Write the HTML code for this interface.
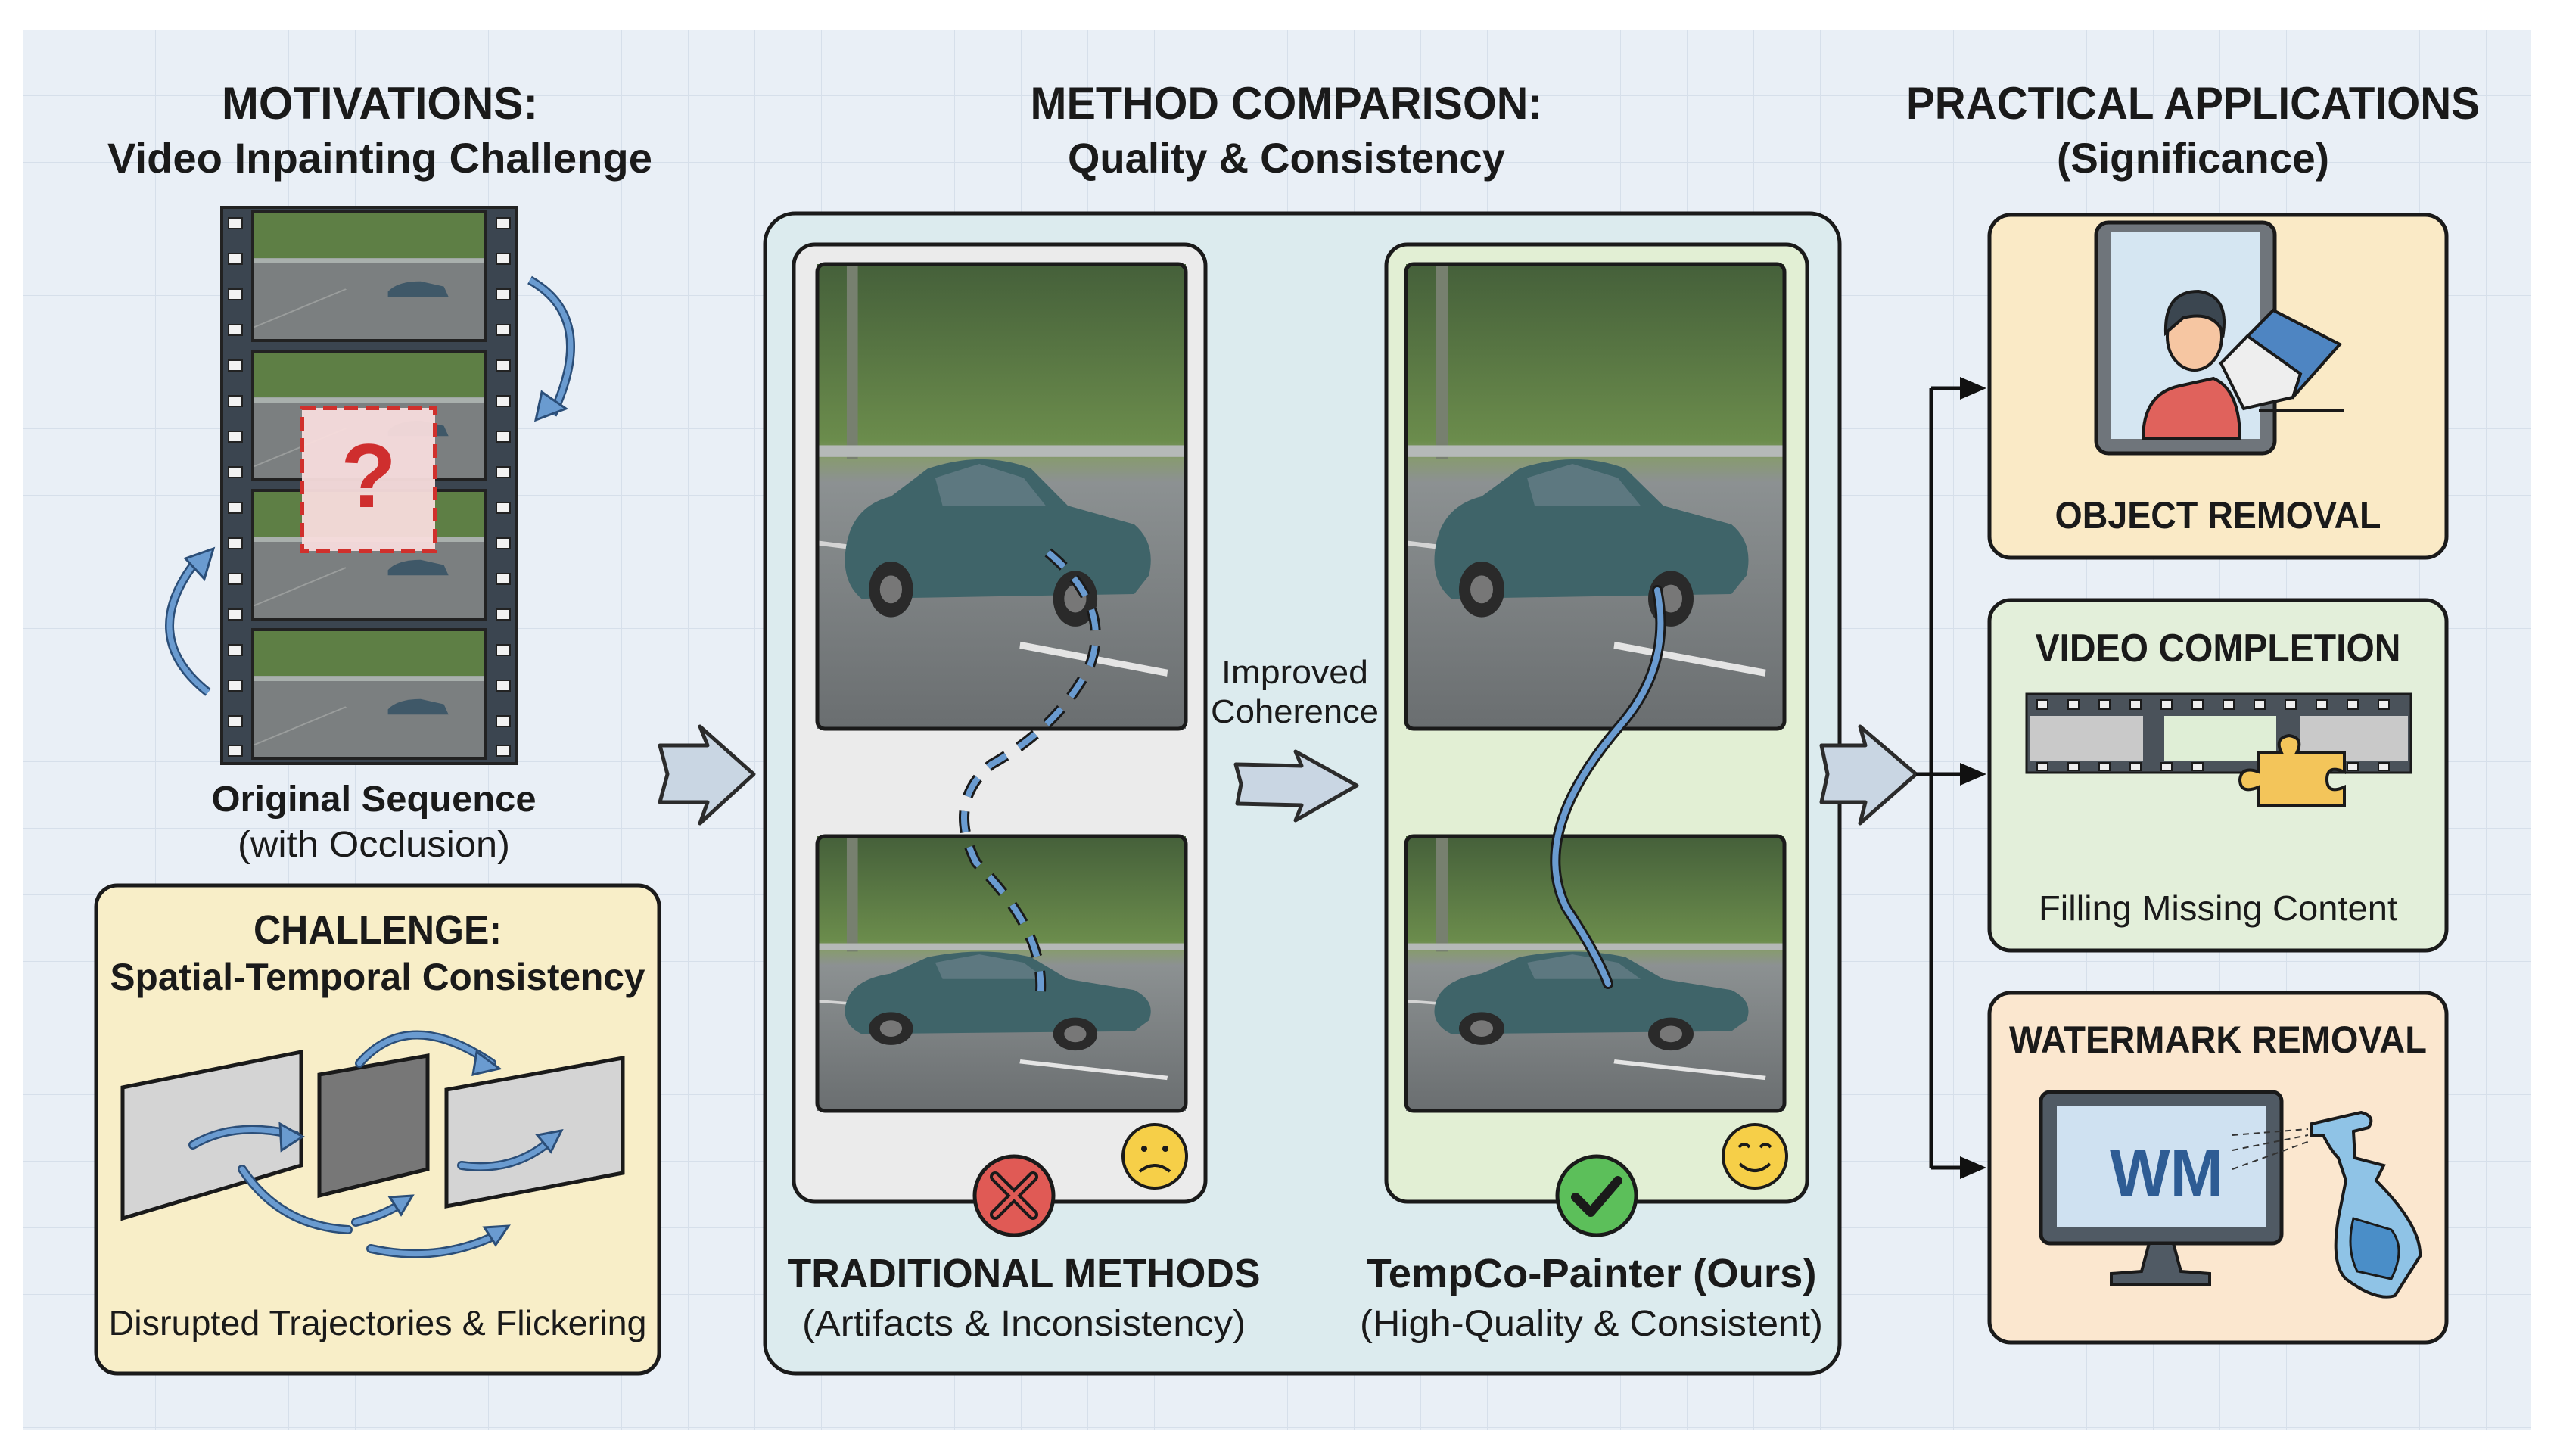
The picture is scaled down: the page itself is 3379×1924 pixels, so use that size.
<!DOCTYPE html>
<html><head><meta charset="utf-8"><style>
html,body{margin:0;padding:0;background:#fff;}
svg{display:block;}
text{font-family:"Liberation Sans",sans-serif;fill:#1a1a1a;}
</style></head><body>
<svg width="3379" height="1924" viewBox="0 0 3379 1924" xmlns="http://www.w3.org/2000/svg">
<defs>
<pattern id="grid" width="88" height="88" patternUnits="userSpaceOnUse" x="30" y="39">
<rect width="88" height="88" fill="#e9eff6"/>
<path d="M88 0V88M0 88H88" stroke="#d6dfea" stroke-width="2" fill="none"/>
</pattern>
<linearGradient id="sky" x1="0" y1="0" x2="0" y2="1">
<stop offset="0" stop-color="#45603a"/><stop offset="0.38" stop-color="#6b8c4c"/><stop offset="0.42" stop-color="#889a72"/><stop offset="0.47" stop-color="#8c9192"/><stop offset="1" stop-color="#6a6e70"/>
</linearGradient>
<symbol id="scene" viewBox="0 0 100 100" preserveAspectRatio="none">
<rect width="100" height="100" fill="url(#sky)"/>
<rect x="8" y="0" width="3" height="42" fill="#77806f"/>
<rect x="0" y="39" width="100" height="2.5" fill="#b5b9b8"/>
<path d="M55 82 L95 88" stroke="#e4e4e4" stroke-width="1.5"/>
<path d="M0 60 L40 64" stroke="#d4d4d4" stroke-width="1"/>
<path d="M8 60 Q10 52 20 50 L30 44 Q45 40 58 44 L68 52 L86 56 Q92 60 90 67 L86 71 L12 72 Q6 68 8 60Z" fill="#3f6469"/>
<path d="M32 46 L44 43 L56 46 L62 52 L34 52Z" fill="#5d7880"/>
<circle cx="20" cy="70" r="6" fill="#2a2a2a"/><circle cx="20" cy="70" r="3" fill="#777"/>
<circle cx="70" cy="72" r="6" fill="#2a2a2a"/><circle cx="70" cy="72" r="3" fill="#777"/>
</symbol>
<symbol id="frame" viewBox="0 0 100 100" preserveAspectRatio="none">
<rect width="100" height="100" fill="#7b7f80"/>
<rect width="100" height="36" fill="#5e7f45"/>
<rect y="36" width="100" height="4" fill="#a9b0ad"/>
<path d="M0 90 L40 60" stroke="#9a9d9c" stroke-width="1"/>
<path d="M58 62 Q62 54 72 54 L82 58 L84 66 L58 66Z" fill="#3f5868"/>
</symbol>
<marker id="ah" markerWidth="10" markerHeight="10" refX="8" refY="5" orient="auto" markerUnits="userSpaceOnUse" viewBox="0 0 10 10"><path d="M0 0L10 5L0 10Z" fill="#111"/></marker>
</defs>

<rect x="30" y="39" width="3315" height="1851" fill="url(#grid)"/>

<g font-weight="bold" text-anchor="middle">
<text x="502" y="157" font-size="60" textLength="418" lengthAdjust="spacingAndGlyphs">MOTIVATIONS:</text>
<text x="502" y="228" font-size="56" textLength="720" lengthAdjust="spacingAndGlyphs">Video Inpainting Challenge</text>
<text x="1700" y="157" font-size="60" textLength="677" lengthAdjust="spacingAndGlyphs">METHOD COMPARISON:</text>
<text x="1700" y="228" font-size="56" textLength="578" lengthAdjust="spacingAndGlyphs">Quality &amp; Consistency</text>
<text x="2898" y="157" font-size="60" textLength="758" lengthAdjust="spacingAndGlyphs">PRACTICAL APPLICATIONS</text>
<text x="2898" y="228" font-size="56" textLength="360" lengthAdjust="spacingAndGlyphs">(Significance)</text>
</g>

<!-- Film strip -->
<rect x="293" y="274" width="390" height="735" fill="#3b4550" stroke="#222" stroke-width="4"/>
<g fill="#f2f2f2" stroke="#222" stroke-width="2">
<rect x="302" y="288" width="18" height="14"/><rect x="302" y="335" width="18" height="14"/><rect x="302" y="382" width="18" height="14"/><rect x="302" y="429" width="18" height="14"/><rect x="302" y="476" width="18" height="14"/><rect x="302" y="523" width="18" height="14"/><rect x="302" y="570" width="18" height="14"/><rect x="302" y="617" width="18" height="14"/><rect x="302" y="664" width="18" height="14"/><rect x="302" y="711" width="18" height="14"/><rect x="302" y="758" width="18" height="14"/><rect x="302" y="805" width="18" height="14"/><rect x="302" y="852" width="18" height="14"/><rect x="302" y="899" width="18" height="14"/><rect x="302" y="946" width="18" height="14"/><rect x="302" y="985" width="18" height="14"/>
<rect x="656" y="288" width="18" height="14"/><rect x="656" y="335" width="18" height="14"/><rect x="656" y="382" width="18" height="14"/><rect x="656" y="429" width="18" height="14"/><rect x="656" y="476" width="18" height="14"/><rect x="656" y="523" width="18" height="14"/><rect x="656" y="570" width="18" height="14"/><rect x="656" y="617" width="18" height="14"/><rect x="656" y="664" width="18" height="14"/><rect x="656" y="711" width="18" height="14"/><rect x="656" y="758" width="18" height="14"/><rect x="656" y="805" width="18" height="14"/><rect x="656" y="852" width="18" height="14"/><rect x="656" y="899" width="18" height="14"/><rect x="656" y="946" width="18" height="14"/><rect x="656" y="985" width="18" height="14"/>
</g>
<use href="#frame" x="334" y="280" width="308" height="170"/>
<use href="#frame" x="334" y="464" width="308" height="170"/>
<use href="#frame" x="334" y="648" width="308" height="170"/>
<use href="#frame" x="334" y="832" width="308" height="170"/>
<g fill="none" stroke="#222" stroke-width="4">
<rect x="334" y="280" width="308" height="170"/><rect x="334" y="464" width="308" height="170"/><rect x="334" y="648" width="308" height="170"/><rect x="334" y="832" width="308" height="170"/>
</g>
<rect x="399" y="539" width="176" height="189" fill="#f7dcdc" fill-opacity="0.95" stroke="#d0302c" stroke-width="6" stroke-dasharray="18 10"/>
<text x="487" y="670" font-size="120" font-weight="bold" text-anchor="middle" style="fill:#cf2e2e">?</text>
<path d="M700 370 Q790 420 730 548" fill="none" stroke="#2b4e78" stroke-width="12"/>
<path d="M700 370 Q790 420 730 548" fill="none" stroke="#6a9bd0" stroke-width="7"/>
<path d="M708 555 L716 518 L748 540Z" fill="#6a9bd0" stroke="#2b4e78" stroke-width="3"/>
<path d="M275 915 Q180 840 262 738" fill="none" stroke="#2b4e78" stroke-width="12"/>
<path d="M275 915 Q180 840 262 738" fill="none" stroke="#6a9bd0" stroke-width="7"/>
<path d="M282 725 L245 738 L270 765Z" fill="#6a9bd0" stroke="#2b4e78" stroke-width="3"/>

<text x="494" y="1072" font-size="48" font-weight="bold" text-anchor="middle" textLength="429" lengthAdjust="spacingAndGlyphs">Original Sequence</text>
<text x="494" y="1132" font-size="48" text-anchor="middle" textLength="360" lengthAdjust="spacingAndGlyphs">(with Occlusion)</text>

<!-- Challenge box -->
<rect x="127" y="1170" width="744" height="645" rx="28" fill="#f8eec8" stroke="#1a1a1a" stroke-width="5"/>
<g font-weight="bold" text-anchor="middle">
<text x="499" y="1247" font-size="54" textLength="328" lengthAdjust="spacingAndGlyphs">CHALLENGE:</text>
<text x="499" y="1308" font-size="50" textLength="707" lengthAdjust="spacingAndGlyphs">Spatial-Temporal Consistency</text>
<text x="499" y="1764" font-size="46" textLength="711" lengthAdjust="spacingAndGlyphs" font-weight="normal">Disrupted Trajectories &amp; Flickering</text>
</g>
<path d="M162 1437 L398 1390 L398 1540 L162 1610Z" fill="#d4d4d4" stroke="#1a1a1a" stroke-width="5"/>
<path d="M422 1420 L565 1395 L565 1545 L422 1580Z" fill="#777" stroke="#1a1a1a" stroke-width="5"/>
<path d="M590 1440 L823 1398 L823 1550 L590 1594Z" fill="#d4d4d4" stroke="#1a1a1a" stroke-width="5"/>
<g fill="none" stroke-linecap="round">
<path d="M255 1513 Q310 1480 390 1500" stroke="#2b4e78" stroke-width="12"/><path d="M255 1513 Q310 1480 390 1500" stroke="#6a9bd0" stroke-width="7"/>
<path d="M475 1405 Q540 1330 650 1405" stroke="#2b4e78" stroke-width="12"/><path d="M475 1405 Q540 1330 650 1405" stroke="#6a9bd0" stroke-width="7"/>
<path d="M320 1545 Q370 1620 460 1625" stroke="#2b4e78" stroke-width="12"/><path d="M320 1545 Q370 1620 460 1625" stroke="#6a9bd0" stroke-width="7"/>
<path d="M470 1615 Q510 1605 530 1590" stroke="#2b4e78" stroke-width="12"/><path d="M470 1615 Q510 1605 530 1590" stroke="#6a9bd0" stroke-width="7"/>
<path d="M490 1650 Q580 1670 660 1630" stroke="#2b4e78" stroke-width="12"/><path d="M490 1650 Q580 1670 660 1630" stroke="#6a9bd0" stroke-width="7"/>
<path d="M610 1540 Q680 1550 730 1505" stroke="#2b4e78" stroke-width="12"/><path d="M610 1540 Q680 1550 730 1505" stroke="#6a9bd0" stroke-width="7"/>
</g>
<g fill="#6a9bd0" stroke="#2b4e78" stroke-width="3">
<path d="M400 1502 L370 1485 L372 1520Z"/><path d="M660 1412 L630 1390 L625 1420Z"/><path d="M545 1580 L515 1582 L530 1605Z"/><path d="M672 1620 L640 1622 L655 1645Z"/><path d="M742 1494 L710 1500 L728 1522Z"/>
</g>

<path d="M872 985 L935 985 L925 960 L996 1023 L925 1088 L935 1060 L872 1060 L882 1023Z" fill="#c9d6e3" stroke="#2b2b2b" stroke-width="5" stroke-linejoin="round"/>

<!-- Method panel -->
<rect x="1011" y="282" width="1420" height="1533" rx="40" fill="#dcebee" stroke="#1a1a1a" stroke-width="5"/>
<rect x="1049" y="323" width="544" height="1265" rx="28" fill="#ebebeb" stroke="#1a1a1a" stroke-width="5"/>
<rect x="1832" y="323" width="556" height="1265" rx="28" fill="#e2efd4" stroke="#1a1a1a" stroke-width="5"/>
<use href="#scene" x="1080" y="349" width="487" height="614"/>
<use href="#scene" x="1080" y="1105" width="487" height="363"/>
<use href="#scene" x="1858" y="349" width="500" height="614"/>
<use href="#scene" x="1858" y="1105" width="500" height="363"/>
<rect x="1080" y="349" width="487" height="614" rx="10" fill="none" stroke="#1a1a1a" stroke-width="5"/>
<rect x="1080" y="1105" width="487" height="363" rx="10" fill="none" stroke="#1a1a1a" stroke-width="5"/>
<rect x="1858" y="349" width="500" height="614" rx="10" fill="none" stroke="#1a1a1a" stroke-width="5"/>
<rect x="1858" y="1105" width="500" height="363" rx="10" fill="none" stroke="#1a1a1a" stroke-width="5"/>
<path d="M1385 730 Q1470 800 1440 880 Q1400 960 1310 1010 Q1250 1060 1290 1140 Q1380 1230 1375 1310" fill="none" stroke="#1a1a1a" stroke-width="14" stroke-dasharray="28 20"/>
<path d="M1385 730 Q1470 800 1440 880 Q1400 960 1310 1010 Q1250 1060 1290 1140 Q1380 1230 1375 1310" fill="none" stroke="#6a9bd0" stroke-width="8" stroke-dasharray="28 20"/>
<path d="M2190 780 Q2210 880 2140 960 Q2020 1100 2070 1200 Q2110 1260 2125 1300" fill="none" stroke="#1a1a1a" stroke-width="14" stroke-linecap="round"/>
<path d="M2190 780 Q2210 880 2140 960 Q2020 1100 2070 1200 Q2110 1260 2125 1300" fill="none" stroke="#6a9bd0" stroke-width="8" stroke-linecap="round"/>
<circle cx="1340" cy="1580" r="52" fill="#e05a55" stroke="#1a1a1a" stroke-width="5"/>
<path d="M1315 1555 L1365 1605 M1365 1555 L1315 1605" stroke="#1a1a1a" stroke-width="14" stroke-linecap="round"/>
<path d="M1315 1555 L1365 1605 M1365 1555 L1315 1605" stroke="#e05a55" stroke-width="6" stroke-linecap="round"/>
<circle cx="1526" cy="1528" r="42" fill="#f6cf48" stroke="#1a1a1a" stroke-width="4"/>
<circle cx="1512" cy="1518" r="4" fill="#1a1a1a"/><circle cx="1540" cy="1518" r="4" fill="#1a1a1a"/>
<path d="M1506 1548 Q1526 1532 1546 1548" fill="none" stroke="#1a1a1a" stroke-width="4"/>
<circle cx="2110" cy="1580" r="52" fill="#5cbf5a" stroke="#1a1a1a" stroke-width="5"/>
<path d="M2082 1582 L2102 1602 L2138 1560" fill="none" stroke="#1a1a1a" stroke-width="12" stroke-linecap="round" stroke-linejoin="round"/>
<circle cx="2319" cy="1528" r="42" fill="#f6cf48" stroke="#1a1a1a" stroke-width="4"/>
<path d="M2298 1516 Q2305 1508 2312 1516 M2326 1516 Q2333 1508 2340 1516" fill="none" stroke="#1a1a1a" stroke-width="4"/>
<path d="M2299 1538 Q2319 1556 2339 1538" fill="none" stroke="#1a1a1a" stroke-width="4"/>

<text x="1711" y="903" font-size="44" text-anchor="middle" textLength="194" lengthAdjust="spacingAndGlyphs">Improved</text>
<text x="1711" y="955" font-size="44" text-anchor="middle" textLength="222" lengthAdjust="spacingAndGlyphs">Coherence</text>
<path d="M1633 1010 L1720 1012 L1712 993 L1793 1038 L1712 1084 L1720 1064 L1635 1062 L1640 1036Z" fill="#c9d6e3" stroke="#2b2b2b" stroke-width="5" stroke-linejoin="round"/>

<g text-anchor="middle">
<text x="1353" y="1701" font-size="54" font-weight="bold" textLength="625" lengthAdjust="spacingAndGlyphs">TRADITIONAL METHODS</text>
<text x="1353" y="1765" font-size="48" textLength="586" lengthAdjust="spacingAndGlyphs">(Artifacts &amp; Inconsistency)</text>
<text x="2103" y="1701" font-size="54" font-weight="bold" textLength="595" lengthAdjust="spacingAndGlyphs">TempCo-Painter (Ours)</text>
<text x="2103" y="1765" font-size="48" textLength="612" lengthAdjust="spacingAndGlyphs">(High-Quality &amp; Consistent)</text>
</g>

<path d="M2407 985 L2465 985 L2458 960 L2532 1023 L2458 1088 L2465 1060 L2407 1060 L2415 1023Z" fill="#c9d6e3" stroke="#2b2b2b" stroke-width="5" stroke-linejoin="round"/>

<path d="M2552 513 V1543" stroke="#111" stroke-width="5" fill="none"/>
<path d="M2552 513 H2600 M2532 1023 H2600 M2552 1543 H2600" stroke="#111" stroke-width="5" fill="none"/>
<path d="M2590 498 L2625 513 L2590 528Z M2590 1008 L2625 1023 L2590 1038Z M2590 1528 L2625 1543 L2590 1558Z" fill="#111"/>

<rect x="2629" y="284" width="604" height="453" rx="28" fill="#faeac6" stroke="#1a1a1a" stroke-width="5"/>
<rect x="2629" y="793" width="604" height="463" rx="28" fill="#e3efda" stroke="#1a1a1a" stroke-width="5"/>
<rect x="2629" y="1312" width="604" height="462" rx="28" fill="#fbe7cf" stroke="#1a1a1a" stroke-width="5"/>

<!-- Object removal icon -->
<rect x="2770" y="294" width="236" height="305" rx="16" fill="#6f757b" stroke="#1a1a1a" stroke-width="5"/>
<rect x="2790" y="306" width="196" height="274" fill="#d5e6f2"/>
<path d="M2832 580 Q2832 520 2880 510 L2925 500 Q2960 515 2960 580Z" fill="#e0625c" stroke="#1a1a1a" stroke-width="4"/>
<ellipse cx="2900" cy="445" rx="36" ry="44" fill="#f6c6a2" stroke="#1a1a1a" stroke-width="4"/>
<path d="M2862 440 Q2860 385 2905 385 Q2945 390 2938 440 Q2925 410 2885 420Z" fill="#3b4650" stroke="#1a1a1a" stroke-width="4"/>
<path d="M2935 480 L3004 410 L3092 455 L3030 525 Z" fill="#4e85c2" stroke="#1a1a1a" stroke-width="4"/>
<path d="M2935 480 L2970 444 L3040 494 L3030 525 L2965 540 Z" fill="#eeeeee" stroke="#1a1a1a" stroke-width="4"/>
<path d="M2985 543 H3098" stroke="#1a1a1a" stroke-width="4"/>
<text x="2931" y="698" font-size="50" font-weight="bold" text-anchor="middle" textLength="431" lengthAdjust="spacingAndGlyphs">OBJECT REMOVAL</text>

<!-- Video completion -->
<text x="2931" y="874" font-size="52" font-weight="bold" text-anchor="middle" textLength="483" lengthAdjust="spacingAndGlyphs">VIDEO COMPLETION</text>
<rect x="2678" y="917" width="508" height="104" fill="#4a525a" stroke="#1a1a1a" stroke-width="3"/>
<rect x="2682" y="946" width="150" height="60" fill="#c9c9c9"/>
<rect x="2860" y="946" width="148" height="60" fill="#dfeed6"/>
<rect x="3040" y="946" width="142" height="60" fill="#c9c9c9"/>
<g fill="#eee" stroke="#1a1a1a" stroke-width="2">
<rect x="2692" y="925" width="14" height="12"/><rect x="2733" y="925" width="14" height="12"/><rect x="2774" y="925" width="14" height="12"/><rect x="2815" y="925" width="14" height="12"/><rect x="2856" y="925" width="14" height="12"/><rect x="2897" y="925" width="14" height="12"/><rect x="2938" y="925" width="14" height="12"/><rect x="2979" y="925" width="14" height="12"/><rect x="3020" y="925" width="14" height="12"/><rect x="3061" y="925" width="14" height="12"/><rect x="3102" y="925" width="14" height="12"/><rect x="3143" y="925" width="14" height="12"/>
<rect x="2692" y="1008" width="14" height="10"/><rect x="2733" y="1008" width="14" height="10"/><rect x="2774" y="1008" width="14" height="10"/><rect x="2815" y="1008" width="14" height="10"/><rect x="2856" y="1008" width="14" height="10"/><rect x="2897" y="1008" width="14" height="10"/><rect x="3102" y="1008" width="14" height="10"/><rect x="3143" y="1008" width="14" height="10"/>
</g>
<path d="M2985 995 H3015 Q3005 975 3025 972 Q3045 975 3035 995 H3098 V1020 Q3075 1010 3075 1030 Q3075 1050 3098 1040 V1065 H2985 V1040 Q2960 1050 2960 1030 Q2962 1012 2985 1020Z" fill="#f3c55a" stroke="#1a1a1a" stroke-width="4"/>
<text x="2931" y="1216" font-size="46" text-anchor="middle" textLength="474" lengthAdjust="spacingAndGlyphs">Filling Missing Content</text>

<!-- Watermark -->
<text x="2931" y="1391" font-size="50" font-weight="bold" text-anchor="middle" textLength="552" lengthAdjust="spacingAndGlyphs">WATERMARK REMOVAL</text>
<rect x="2697" y="1443" width="318" height="200" rx="12" fill="#505a64" stroke="#1a1a1a" stroke-width="5"/>
<rect x="2718" y="1462" width="276" height="160" fill="#cfe1f1"/>
<path d="M2840 1643 L2830 1680 L2790 1683 V1697 H2920 V1683 L2882 1680 L2872 1643Z" fill="#505a64" stroke="#1a1a1a" stroke-width="4"/>
<text x="2788" y="1580" font-size="88" font-weight="bold" style="fill:#2e5c94" textLength="150" lengthAdjust="spacingAndGlyphs">WM</text>
<path d="M2950 1500 L3050 1492 M2950 1520 L3050 1500 M2950 1545 L3052 1508" stroke="#333" stroke-width="2" stroke-dasharray="8 6"/>
<path d="M3055 1485 L3120 1470 Q3140 1475 3130 1490 L3110 1495 L3112 1530 L3150 1540 L3140 1560 Q3200 1620 3198 1660 L3165 1712 Q3140 1720 3100 1690 Q3080 1670 3090 1610 L3100 1560 L3090 1530 Q3080 1520 3070 1500 L3055 1500Z" fill="#8fc3e6" stroke="#1a1a1a" stroke-width="4"/>
<path d="M3110 1610 L3160 1625 Q3180 1650 3160 1690 L3115 1680 Q3100 1650 3110 1610Z" fill="#4a8ec8" stroke="#1a1a1a" stroke-width="3"/>
</svg>
</body></html>
